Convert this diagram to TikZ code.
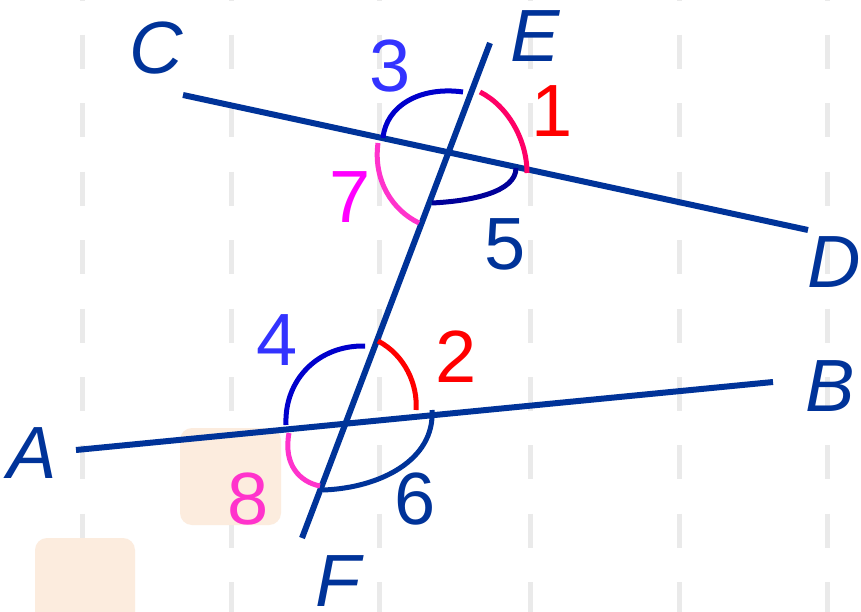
\documentclass[tikz,border=0pt]{standalone}
\usepackage{fontspec}
\setmainfont{Liberation Sans}
\definecolor{ln}{HTML}{003399}
\definecolor{arcblue}{HTML}{0000CC}
\definecolor{arcnavy}{HTML}{000099}
\definecolor{arcrose}{HTML}{FF0066}
\definecolor{arcred}{HTML}{FF0000}
\definecolor{arcpink}{HTML}{FF33CC}
\definecolor{lblblue}{HTML}{3333FF}
\definecolor{lblmag}{HTML}{FF00FF}
\definecolor{grid}{HTML}{EAEAEA}
\definecolor{stamp}{HTML}{FCECDE}
\tikzset{
  mainline/.style={line width=6pt, color=ln},
  anglearc/.style={line width=5pt},
  letter/.style={font=\fontsize{74}{74}\selectfont\itshape, text=ln, inner sep=0pt, anchor=base},
  digit/.style={font=\fontsize{74}{74}\selectfont, inner sep=0pt, anchor=base},
  gridline/.style={line width=5pt, color=grid, dash pattern=on 34pt off 34.4pt, dash phase=33.4pt},
  stampbox/.style={fill=stamp, draw=none, rounded corners=12pt}
}
\begin{document}
\begin{tikzpicture}[x=1pt,y=-1pt]
\useasboundingbox (0,0) rectangle (861,612);
\fill[white] (0,0) rectangle (861,612);
% faint background dashes
\foreach \gx in {82,231,379,530,679,827}{
  \draw[gridline] (\gx,0) -- (\gx,612);
}
% faint stamps
\fill[stampbox] (180,428) rectangle (281,525);
\fill[stampbox] (35,538) rectangle (135,640);
% end points
\coordinate (C0) at (183,95);
\coordinate (D0) at (808,230);
\coordinate (E0) at (490,43);
\coordinate (F0) at (302,538);
\coordinate (A0) at (76,450);
\coordinate (B0) at (773,382);
% lines
\draw[mainline] (C0) -- (D0);
\draw[mainline] (E0) -- (F0);
\draw[mainline] (A0) -- (B0);
% arcs at upper intersection
\draw[anglearc, arcblue] (383,138) .. controls (386,106) and (420,86) .. (463,92);
\draw[anglearc, arcrose] (480,92) .. controls (508,106) and (527,140) .. (527,173);
\draw[anglearc, arcpink] (378,143) .. controls (373,180) and (392,210) .. (419,223);
\draw[anglearc, arcnavy] (516,168) .. controls (516,192) and (472,201) .. (432,203);
% arcs at lower intersection
\draw[anglearc, arcblue] (286,425) .. controls (284,380) and (318,345) .. (365,346);
\draw[anglearc, arcred] (378,341) .. controls (405,355) and (418,385) .. (416,410);
\draw[anglearc, arcpink] (289,433) .. controls (283,465) and (300,482) .. (320,486);
\draw[anglearc, ln] (432,410) .. controls (435,460) and (380,488) .. (323,490);
% letters
\node[letter] (C) at (156,74) {C};
\node[letter] (E) at (535,62) {E};
\node[letter] (D) at (834,287) {D};
\node[letter] (B) at (830,411) {B};
\node[letter] (A) at (32,478) {A};
\node[letter] (F) at (338,606) {F};
% digits
\node[digit, text=lblblue] (n3) at (390,92) {3};
\node[digit, text=arcred] (n1) at (552,137) {1};
\node[digit, text=lblmag] (n7) at (350,223) {7};
\node[digit, text=ln] (n5) at (505,269) {5};
\node[digit, text=lblblue] (n4) at (277,365) {4};
\node[digit, text=arcred] (n2) at (456,382) {2};
\node[digit, text=arcpink] (n8) at (248,524) {8};
\node[digit, text=ln] (n6) at (415,524) {6};
\end{tikzpicture}
\end{document}
